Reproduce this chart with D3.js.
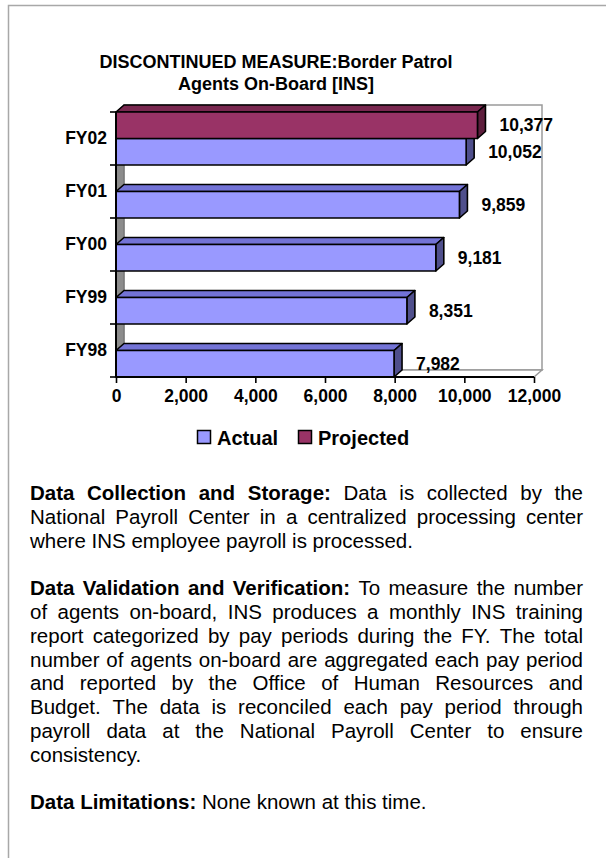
<!DOCTYPE html>
<html>
<head>
<meta charset="utf-8">
<script src="https://cdn.jsdelivr.net/npm/d3@7"></script>
<style>
  html, body { margin: 0; padding: 0; background: #fff; }
  svg { display: block; font-family: "Liberation Sans", Arial, sans-serif; }
</style>
</head>
<body>
<svg id="chart" width="606" height="858"></svg>
<script>
// ---- data ----
const categories = ["FY98", "FY99", "FY00", "FY01", "FY02"];
const actual     = [7982, 8351, 9181, 9859, 10052];
const projected  = [null, null, null, null, 10377];
const seriesNames = ["Actual", "Projected"];
const xTicks = [0, 2000, 4000, 6000, 8000, 10000, 12000];
const titleLines = ["DISCONTINUED MEASURE:Border Patrol", "Agents On-Board [INS]"];

// ---- styling ----
const colors = {
  Actual:    { front: "#9999ff", top: "#7373d6", side: "#4f4f8c" },
  Projected: { front: "#993366", top: "#7a2850", side: "#5e1e3d" }
};
const depth = { dx: 8, dy: 7 };

const svg = d3.select("#chart");

// page frame
svg.append("rect")
  .attr("x", 8.5).attr("y", 5.5).attr("width", 640).attr("height", 900)
  .attr("fill", "none").attr("stroke", "#a8a8a8").attr("stroke-width", 1.5);

// title
svg.append("g").selectAll("text").data(titleLines).join("text")
  .attr("x", 276).attr("y", (d, i) => 68 + i * 21.5)
  .attr("text-anchor", "middle")
  .attr("font-weight", "bold").attr("font-size", 18)
  .text(d => d);

// ---- scales ----
const x = d3.scaleLinear().domain([0, 12000]).range([116, 534]);
const y = d3.scaleBand().domain(categories.slice().reverse()).range([112, 377]).padding(0);
const ySub = d3.scaleBand().domain(["Projected", "Actual"]).range([0, y.bandwidth()]).padding(0);

const plot = svg.append("g");
const x0 = x.range()[0], x1 = x.range()[1];
const yTop = y.range()[0], yBot = y.range()[1];

// back wall
plot.append("rect")
  .attr("x", x0 + depth.dx).attr("y", yTop - depth.dy)
  .attr("width", x1 - x0).attr("height", yBot - yTop)
  .attr("fill", "#fff").attr("stroke", "#9a9a9a").attr("stroke-width", 1.5);
// floor
plot.append("path")
  .attr("d", `M${x0},${yBot}L${x1},${yBot}L${x1 + depth.dx},${yBot - depth.dy}L${x0 + depth.dx},${yBot - depth.dy}Z`)
  .attr("fill", "#fff").attr("stroke", "#9a9a9a").attr("stroke-width", 1.5);
// side wall
plot.append("path")
  .attr("d", `M${x0},${yTop}L${x0 + depth.dx},${yTop - depth.dy}L${x0 + depth.dx},${yBot - depth.dy}L${x0},${yBot}Z`)
  .attr("fill", "#8c8c8c").attr("stroke", "#6e6e6e").attr("stroke-width", 1);

// ---- bars (bottom-most first so upper bars cover hidden top faces) ----
const bars = [];
categories.forEach((c, i) => {
  if (actual[i] != null) bars.push({ cat: c, series: "Actual", value: actual[i] });
  if (projected[i] != null) bars.push({ cat: c, series: "Projected", value: projected[i] });
});
bars.forEach(b => {
  b.y0 = y(b.cat) + ySub(b.series);
  b.y1 = b.y0 + ySub.bandwidth();
});
bars.sort((a, b) => b.y0 - a.y0);

const barG = plot.append("g").attr("stroke", "#000").attr("stroke-width", 1.6).attr("stroke-linejoin", "round");
bars.forEach(b => {
  const xs = x(0), xe = x(b.value);
  const g = barG.append("g");
  const col = colors[b.series];
  g.append("path") // top face
    .attr("d", `M${xs},${b.y0}L${xs + depth.dx},${b.y0 - depth.dy}L${xe + depth.dx},${b.y0 - depth.dy}L${xe},${b.y0}Z`)
    .attr("fill", col.top);
  g.append("path") // end face
    .attr("d", `M${xe},${b.y0}L${xe + depth.dx},${b.y0 - depth.dy}L${xe + depth.dx},${b.y1 - depth.dy}L${xe},${b.y1}Z`)
    .attr("fill", col.side);
  g.append("rect") // front face
    .attr("x", xs).attr("y", b.y0).attr("width", xe - xs).attr("height", b.y1 - b.y0)
    .attr("fill", col.front);
});

// value labels
const fmt = d3.format(",");
plot.append("g").selectAll("text").data(bars).join("text")
  .attr("x", d => x(d.value) + 22)
  .attr("y", d => (d.y0 + d.y1) / 2 + 6)
  .attr("font-weight", "bold").attr("font-size", 17.5)
  .text(d => fmt(d.value));

// ---- axes ----
const xAxis = plot.append("g").attr("transform", `translate(0,${yBot})`)
  .call(d3.axisBottom(x).tickValues(xTicks).tickSize(6).tickPadding(7).tickFormat(fmt));
xAxis.select(".domain").attr("stroke", "#000").attr("stroke-width", 2).attr("d", `M${x0},0H${x1}`);
xAxis.selectAll(".tick line").attr("stroke", "#000").attr("stroke-width", 1.6);
xAxis.selectAll(".tick text").attr("font-size", 17.5).attr("font-weight", "bold")
  .attr("font-family", "Liberation Sans, Arial, sans-serif").attr("fill", "#000");

const yAxis = plot.append("g").attr("transform", `translate(${x0},0)`)
  .call(d3.axisLeft(y).tickSize(0).tickPadding(9));
yAxis.select(".domain").attr("stroke", "#000").attr("stroke-width", 2).attr("d", `M0,${yTop}V${yBot}`);
yAxis.selectAll(".tick text").attr("font-size", 17.5).attr("font-weight", "bold")
  .attr("font-family", "Liberation Sans, Arial, sans-serif").attr("fill", "#000");
// category boundary ticks
const bounds = y.domain().map(c => y(c)).concat([yBot]);
yAxis.append("g").selectAll("line").data(bounds).join("line")
  .attr("x1", -6).attr("x2", 0).attr("y1", d => d).attr("y2", d => d)
  .attr("stroke", "#000").attr("stroke-width", 1.6);

// ---- legend ----
const legendPos = { Actual: 197, Projected: 298 };
const legend = svg.append("g");
seriesNames.forEach(s => {
  legend.append("rect")
    .attr("x", legendPos[s] + 0.5).attr("y", 430.5).attr("width", 13).attr("height", 13)
    .attr("fill", colors[s].front).attr("stroke", "#000").attr("stroke-width", 1.5);
  legend.append("text")
    .attr("x", legendPos[s] + 20).attr("y", 444.5)
    .attr("font-weight", "bold").attr("font-size", 20)
    .text(s);
});

// ---- notes text (justified) ----
const paragraphs = [
  [
    [["Data Collection and Storage:", true], [" Data is collected by the", false]],
    [["National Payroll Center in a centralized processing center", false]],
    [["where INS employee payroll is processed.", false]]
  ],
  [
    [["Data Validation and Verification:", true], [" To measure the number", false]],
    [["of agents on-board, INS produces a monthly INS training", false]],
    [["report categorized by pay periods during the FY. The total", false]],
    [["number of agents on-board are aggregated each pay period", false]],
    [["and reported by the Office of Human Resources and", false]],
    [["Budget. The data is reconciled each pay period through", false]],
    [["payroll data at the National Payroll Center to ensure", false]],
    [["consistency.", false]]
  ],
  [
    [["Data Limitations:", true], [" None known at this time.", false]]
  ]
];

const textLeft = 30, textRight = 583, fontSize = 20.5, lineH = 23.8;
const notes = svg.append("g").attr("font-size", fontSize).attr("fill", "#000");
const measure = notes.append("text").attr("visibility", "hidden");
function wordWidth(w, bold) {
  measure.attr("font-weight", bold ? "bold" : "normal").text(w);
  return measure.node().getComputedTextLength();
}
const spaceW = fontSize * 0.278;

let baseline = 500;
paragraphs.forEach(par => {
  par.forEach((line, li) => {
    const words = [];
    line.forEach(([t, bold]) => {
      t.split(" ").filter(w => w.length).forEach(w => words.push({ w, bold, width: wordWidth(w, bold) }));
    });
    const isLast = li === par.length - 1;
    const total = d3.sum(words, d => d.width);
    const gap = isLast ? spaceW : (textRight - textLeft - total) / (words.length - 1);
    let cx = textLeft;
    words.forEach(wd => {
      notes.append("text")
        .attr("x", cx).attr("y", baseline)
        .attr("font-weight", wd.bold ? "bold" : "normal")
        .text(wd.w);
      cx += wd.width + gap;
    });
    baseline += lineH;
  });
  baseline += lineH;
});
measure.remove();
</script>
</body>
</html>
